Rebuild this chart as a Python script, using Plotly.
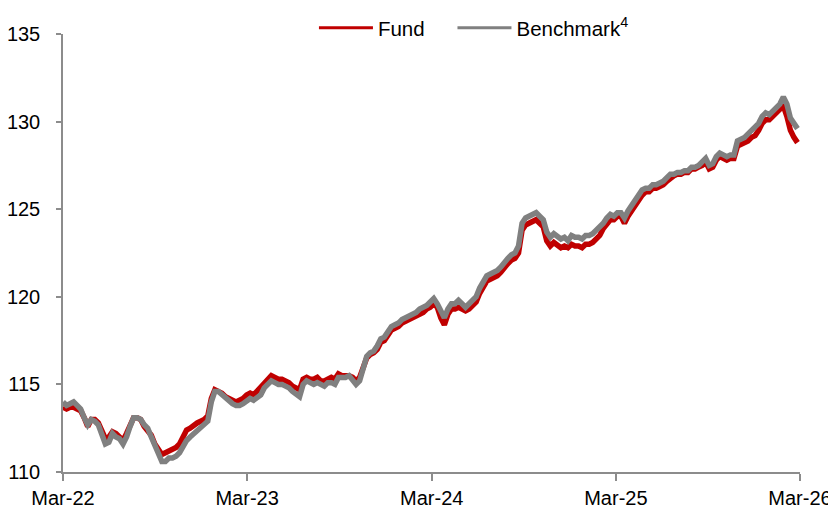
import pandas as pd
import plotly.graph_objects as go

start_date = "2022-03-31"
tick_dates = ["2022-03-31", "2023-03-31", "2024-03-31", "2025-03-31", "2026-03-31"]
tick_labels = ["Mar-22", "Mar-23", "Mar-24", "Mar-25", "Mar-26"]

benchmark = [
    114.0, 113.8, 113.9, 114.0, 113.8, 113.6, 113.1, 112.7, 113.0, 112.9,
    112.7, 112.1, 111.6, 111.7, 112.2, 112.0, 111.9, 111.6, 112.0, 112.6,
    113.1, 113.1, 113.0, 112.7, 112.5, 112.0, 111.5, 111.1, 110.6, 110.6,
    110.8, 110.8, 110.9, 111.1, 111.5, 111.8, 112.0, 112.2, 112.4, 112.5,
    112.7, 112.9, 114.0, 114.6, 114.6, 114.4, 114.2, 114.0, 113.9, 113.8,
    113.8, 113.9, 114.1, 114.2, 114.1, 114.3, 114.4, 114.8, 115.0, 115.2,
    115.1, 115.0, 115.0, 114.9, 114.8, 114.6, 114.4, 114.3, 115.0, 115.2,
    115.1, 115.0, 115.1, 115.0, 114.9, 115.1, 115.1, 115.0, 115.4, 115.4,
    115.4, 115.5, 115.3, 115.0, 115.2, 116.0, 116.6, 116.8, 116.9, 117.2,
    117.6, 117.7, 118.0, 118.3, 118.4, 118.5, 118.7, 118.8, 118.9, 119.0,
    119.1, 119.3, 119.4, 119.5, 119.7, 119.9, 119.6, 119.1, 118.8, 119.3,
    119.6, 119.6, 119.8, 119.6, 119.4, 119.6, 119.8, 120.0, 120.5, 120.9,
    121.2, 121.3, 121.4, 121.5, 121.7, 122.0, 122.2, 122.4, 122.5, 122.9,
    124.2, 124.5, 124.6, 124.7, 124.8, 124.6, 124.4, 123.7, 123.4, 123.6,
    123.4, 123.3, 123.4, 123.2, 123.5, 123.4, 123.4, 123.3, 123.5, 123.5,
    123.6, 123.8, 123.9, 124.2, 124.5, 124.7, 124.6, 124.8, 124.8, 124.5,
    124.9, 125.2, 125.6, 125.9, 126.1, 126.2, 126.2, 126.4, 126.4, 126.5,
    126.6, 126.8, 127.0, 127.0, 127.1, 127.1, 127.2, 127.2, 127.4, 127.4,
    127.5, 127.7, 127.9, 127.5, 127.6, 128.0, 128.2, 128.1, 128.0, 128.1,
    128.1, 128.9, 129.0, 129.1, 129.3, 129.5, 129.6, 129.9, 130.3, 130.5,
    130.4, 130.6, 130.8, 131.0, 131.4, 131.0, 130.2, 129.9, 129.6,
]

fund = [
    113.7, 113.6, 113.7, 113.7, 113.6, 113.5, 113.1, 112.6, 113.0, 113.0,
    112.8, 112.3, 111.9, 112.0, 112.3, 112.2, 112.0, 111.8, 112.2, 112.7,
    113.1, 113.1, 113.0, 112.6, 112.4, 112.1, 111.6, 111.3, 111.0, 111.1,
    111.2, 111.3, 111.4, 111.6, 112.0, 112.4, 112.5, 112.7, 112.8, 112.9,
    113.0, 113.2, 114.2, 114.7, 114.6, 114.5, 114.3, 114.2, 114.1, 114.0,
    114.1, 114.2, 114.4, 114.5, 114.4, 114.6, 114.8, 115.1, 115.3, 115.5,
    115.4, 115.3, 115.3, 115.2, 115.1, 114.9, 114.8, 114.7, 115.3, 115.4,
    115.3, 115.3, 115.4, 115.2, 115.2, 115.3, 115.4, 115.3, 115.6, 115.5,
    115.5, 115.5, 115.4, 115.2, 115.4, 116.0, 116.5, 116.7, 116.8, 117.0,
    117.4, 117.5, 117.8, 118.1, 118.2, 118.3, 118.5, 118.6, 118.7, 118.8,
    118.9, 119.0, 119.1, 119.3, 119.4, 119.6, 119.4, 118.8, 118.4, 119.0,
    119.3, 119.3, 119.4, 119.3, 119.2, 119.3, 119.5, 119.7, 120.2, 120.6,
    120.9, 121.0, 121.1, 121.2, 121.4, 121.7, 121.9, 122.1, 122.2, 122.5,
    123.8, 124.1, 124.2, 124.3, 124.4, 124.2, 124.0, 123.2, 122.9, 123.1,
    122.9, 122.8, 122.9, 122.8, 123.0, 122.9, 122.9, 122.8, 123.0, 123.0,
    123.1, 123.3, 123.5, 123.9, 124.2, 124.4, 124.4, 124.6, 124.6, 124.2,
    124.6, 124.9, 125.3, 125.6, 125.8, 126.0, 126.0, 126.2, 126.2, 126.3,
    126.4, 126.6, 126.8, 126.9, 127.0, 127.0, 127.1, 127.1, 127.3, 127.3,
    127.4, 127.5, 127.7, 127.3, 127.4, 127.8, 128.0, 127.9, 127.8, 127.9,
    127.9, 128.6, 128.7, 128.8, 128.9, 129.1, 129.2, 129.5, 129.9, 130.1,
    130.1, 130.3, 130.5, 130.7, 130.9, 130.3, 129.5, 129.1, 128.8,
]

series_names = ["Fund", "Benchmark<sup>4</sup>"]

dates = pd.date_range(start=start_date, periods=len(benchmark), freq="7D")

FONT = "Liberation Sans, Arial, sans-serif"
AXIS_COLOR = "#8c8c8c"
RED = "#c00000"
GRAY = "#808080"

fig = go.Figure()
fig.add_trace(go.Scatter(x=dates, y=fund, mode="lines", name=series_names[0],
                         showlegend=False, line=dict(color=RED, width=5.5)))
fig.add_trace(go.Scatter(x=dates, y=benchmark, mode="lines", name=series_names[1],
                         showlegend=False, line=dict(color=GRAY, width=5.5)))
# legend entries (thinner sample lines as in the reference)
fig.add_trace(go.Scatter(x=[None], y=[None], mode="lines",
                         name=series_names[0] + "\u00a0\u00a0\u00a0\u00a0",
                         line=dict(color=RED, width=3)))
fig.add_trace(go.Scatter(x=[None], y=[None], mode="lines", name=series_names[1],
                         line=dict(color=GRAY, width=3)))

fig.update_layout(
    width=828, height=500,
    margin=dict(l=55, r=36, t=26, b=36, autoexpand=False),
    paper_bgcolor="white", plot_bgcolor="white",
    font=dict(family=FONT, size=20, color="#000000"),
    showlegend=True,
    legend=dict(orientation="h", xref="container", yref="container",
                x=0.3695, xanchor="left", y=0.96, yanchor="middle",
                font=dict(size=20.5), bgcolor="rgba(0,0,0,0)",
                itemwidth=54, tracegroupgap=0),
    xaxis=dict(type="date", range=[tick_dates[0], tick_dates[-1]],
               tickvals=tick_dates, ticktext=tick_labels,
               showgrid=False, zeroline=False, automargin=False,
               showline=True, linecolor=AXIS_COLOR, linewidth=1.5,
               ticks="outside", ticklen=7, tickcolor=AXIS_COLOR, tickwidth=1.5,
               tickfont=dict(size=20)),
    yaxis=dict(range=[110, 135], tickvals=[110, 115, 120, 125, 130, 135],
               showgrid=False, zeroline=False, automargin=False,
               showline=True, linecolor=AXIS_COLOR, linewidth=1.5,
               ticks="outside", ticklen=5, tickcolor=AXIS_COLOR, tickwidth=1.5,
               ticklabelstandoff=12,
               tickfont=dict(size=20)),
)

fig.write_html("out.html")
